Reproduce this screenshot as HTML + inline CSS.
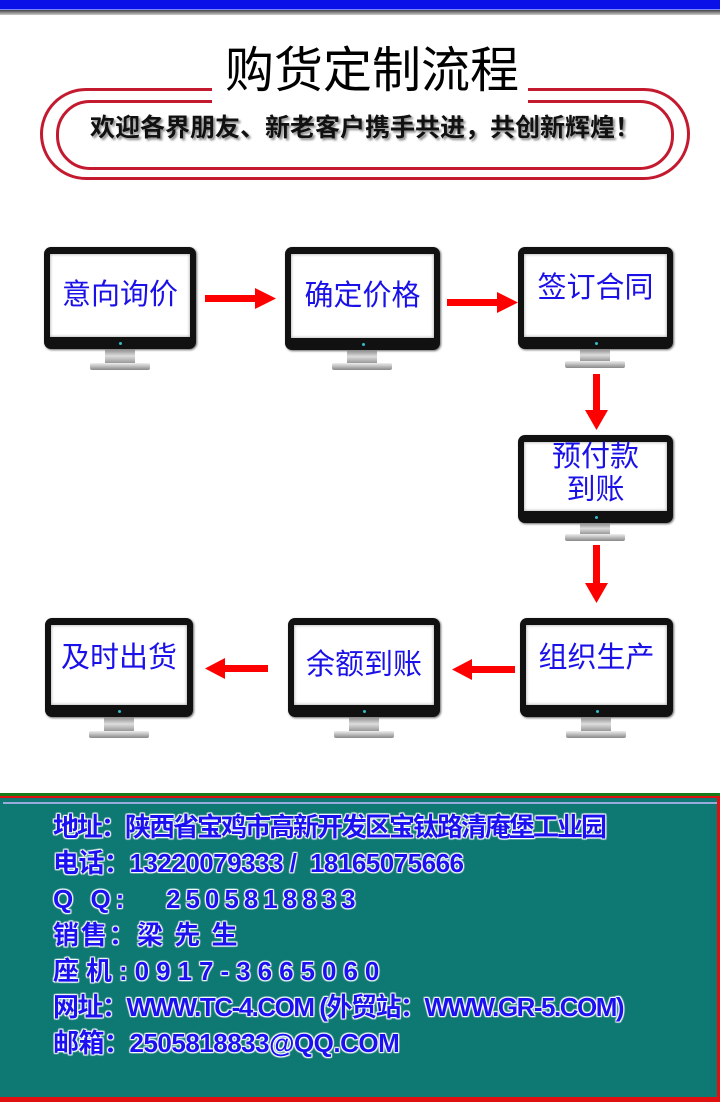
<!DOCTYPE html>
<html><head><meta charset="utf-8"><style>
*{margin:0;padding:0;box-sizing:border-box}
body{width:720px;height:1102px;background:#fff;position:relative;overflow:hidden;font-family:"Liberation Sans","Noto Sans CJK SC",sans-serif}
.a{position:absolute}
.mon{position:absolute;background:#111;border-radius:7px;padding:7px 6px 12px 6px;box-shadow:1px 1px 2px #666}
.mon .s{width:100%;height:100%;background:#fff;display:flex;align-items:center;justify-content:center;text-align:center;color:#1a10e8;font-size:29px;line-height:33px;box-shadow:inset 0 0 3px #999}
.mon .dot{position:absolute;bottom:4px;left:50%;width:3px;height:3px;margin-left:-1px;background:#3bc;border-radius:50%}
.neck{position:absolute;background:linear-gradient(#888,#ddd,#999)}
.base{position:absolute;height:7px;background:linear-gradient(#eee,#888);border-radius:2px}
.ft{position:absolute;left:53px;font-size:26px;font-weight:bold;color:#1a10f0;text-shadow:0 0 2px #fff,1px 1px 1px #fff,-1px -1px 1px #fff,1px -1px 1px #fff,-1px 1px 1px #fff;white-space:nowrap;line-height:30px}
</style></head><body>
<div class="a" style="left:0;top:0;width:720px;height:10px;background:#0a10e8;border-bottom:1px solid #7a86ff"></div>
<div class="a" style="left:0;top:10px;width:720px;height:5px;background:linear-gradient(#444,#ccc)"></div>

<div class="a" style="left:40px;top:88px;width:650px;height:92px;border:3px solid #c41a30;border-radius:46px"></div>
<div class="a" style="left:56px;top:100px;width:618px;height:70px;border:3px solid #c41a30;border-radius:34px"></div>
<div class="a" style="left:212px;top:45px;width:316px;height:60px;background:#fff"></div>
<div class="a" style="left:0;top:42px;width:744px;text-align:center;font-size:49px;line-height:58px;color:#000">购货定制流程</div>
<div class="a" style="left:60px;top:112px;width:610px;text-align:center;font-size:25px;font-weight:bold;line-height:32px;color:#111;text-shadow:2px 2px 2px #888">欢迎各界朋友、新老客户携手共进，共创新辉煌！</div>

<div class="mon" style="left:44px;top:247px;width:152px;height:102px"><div class="s">意向询价</div><div class="dot"></div></div>
<div class="neck" style="left:105px;top:349px;width:30px;height:14px"></div><div class="base" style="left:90px;top:363px;width:60px"></div>

<div class="mon" style="left:285px;top:247px;width:155px;height:103px"><div class="s">确定价格</div><div class="dot"></div></div>
<div class="neck" style="left:347px;top:350px;width:30px;height:13px"></div><div class="base" style="left:332px;top:363px;width:60px"></div>

<div class="mon" style="left:518px;top:247px;width:155px;height:102px"><div class="s" style="padding-bottom:14px">签订合同</div><div class="dot"></div></div>
<div class="neck" style="left:580px;top:349px;width:30px;height:12px"></div><div class="base" style="left:565px;top:361px;width:60px"></div>

<div class="mon" style="left:518px;top:435px;width:155px;height:88px"><div class="s" style="padding-bottom:6px">预付款<br>到账</div><div class="dot"></div></div>
<div class="neck" style="left:580px;top:523px;width:30px;height:11px"></div><div class="base" style="left:565px;top:534px;width:60px"></div>

<div class="mon" style="left:45px;top:618px;width:148px;height:99px"><div class="s" style="padding-bottom:14px">及时出货</div><div class="dot"></div></div>
<div class="neck" style="left:104px;top:717px;width:30px;height:14px"></div><div class="base" style="left:89px;top:731px;width:60px"></div>

<div class="mon" style="left:288px;top:618px;width:152px;height:99px"><div class="s">余额到账</div><div class="dot"></div></div>
<div class="neck" style="left:349px;top:717px;width:30px;height:14px"></div><div class="base" style="left:334px;top:731px;width:60px"></div>

<div class="mon" style="left:520px;top:618px;width:153px;height:99px"><div class="s" style="padding-bottom:14px">组织生产</div><div class="dot"></div></div>
<div class="neck" style="left:581px;top:717px;width:30px;height:14px"></div><div class="base" style="left:566px;top:731px;width:60px"></div>

<svg class="a" style="left:0;top:0" width="720" height="790">
<g fill="#f00">
<rect x="205" y="295" width="52" height="7"/><polygon points="255,288 276,298.5 255,309"/>
<rect x="447" y="299" width="52" height="7"/><polygon points="497,292 518,302.5 497,313"/>
<rect x="593" y="374" width="7" height="38"/><polygon points="585,410 608,410 596.5,430"/>
<rect x="593" y="545" width="7" height="40"/><polygon points="585,583 608,583 596.5,603"/>
<rect x="470" y="666" width="45" height="7"/><polygon points="472,659 452,669.5 472,680"/>
<rect x="223" y="665" width="45" height="7"/><polygon points="225,658 205,668.5 225,679"/>
</g></svg>

<div class="a" style="left:0;top:793px;width:720px;height:309px;background:#0e7872"></div>
<div class="a" style="left:0;top:793px;width:720px;height:3px;background:#1a7a1a"></div>
<div class="a" style="left:0;top:796px;width:720px;height:2px;background:#e01010"></div>
<div class="a" style="left:3px;top:802px;width:714px;height:2px;background:#9ad"></div>
<div class="a" style="left:717px;top:796px;width:3px;height:306px;background:#e01010"></div>
<div class="a" style="left:0;top:1097px;width:720px;height:5px;background:#e01010"></div>
<div class="ft" style="top:812px;letter-spacing:-2px">地址：陕西省宝鸡市高新开发区宝钛路清庵堡工业园</div>
<div class="ft" style="top:848px;letter-spacing:-0.5px">电话：13220079333 /&nbsp; 18165075666</div>
<div class="ft" style="top:884px;letter-spacing:5px">Q Q:&nbsp;&nbsp; 2505818833</div>
<div class="ft" style="top:920px;letter-spacing:2px">销售：梁 先 生</div>
<div class="ft" style="top:956px;letter-spacing:7px">座机:0917-3665060</div>
<div class="ft" style="top:992px;letter-spacing:-1.5px">网址：WWW.TC-4.COM (外贸站：WWW.GR-5.COM)</div>
<div class="ft" style="top:1028px;letter-spacing:-0.5px">邮箱：2505818833@QQ.COM</div>
</body></html>
